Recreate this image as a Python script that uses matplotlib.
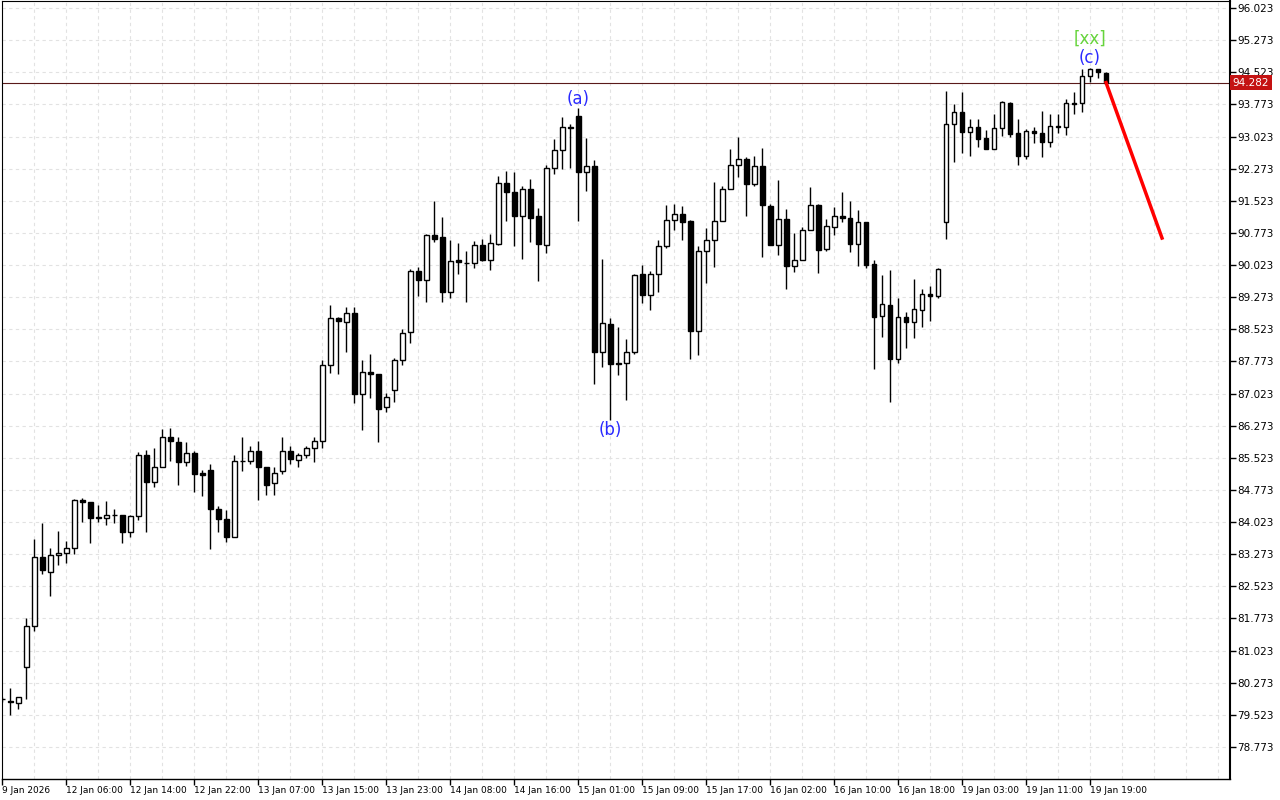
import numpy as np
import matplotlib
matplotlib.use('Agg')
import matplotlib.pyplot as plt
import matplotlib.transforms as mtransforms

# hourly candles
opens = [79.90, 79.84, 79.79, 80.63, 81.59, 83.21, 82.85, 83.25, 83.29, 83.41,
         84.53, 84.49, 84.14, 84.13, 84.20, 84.19, 83.80, 84.16, 85.59, 84.95,
         85.30, 86.00, 85.89, 85.43, 85.63, 85.16, 85.23, 84.34, 84.09, 83.68,
         85.44, 85.44, 85.68, 85.30, 84.93, 85.21, 85.68, 85.47, 85.60, 85.75,
         85.91, 87.68, 88.78, 88.69, 88.90, 87.01, 87.52, 87.47, 86.70, 87.10,
         87.80, 88.45, 89.88, 89.67, 90.72, 90.67, 89.39, 90.14, 90.08, 90.06,
         90.48, 90.13, 90.52, 91.93, 91.74, 91.16, 91.81, 91.16, 90.48, 92.30,
         92.72, 93.24, 93.50, 92.19, 92.33, 87.99, 88.64, 87.73, 87.73, 87.99,
         89.81, 89.32, 89.81, 90.46, 91.07, 91.21, 91.05, 88.49, 90.34, 90.60,
         91.04, 91.81, 92.35, 92.49, 91.91, 92.33, 91.39, 90.48, 91.09, 89.99,
         90.13, 90.83, 91.42, 90.39, 90.90, 91.16, 91.11, 90.51, 91.02, 90.04,
         88.83, 89.08, 87.84, 88.80, 88.69, 88.97, 89.34, 89.29, 91.02, 93.31,
         93.59, 93.12, 93.24, 92.98, 92.74, 93.22, 93.80, 93.10, 92.58, 93.15,
         93.10, 92.90, 93.26, 93.25, 93.80, 93.80, 94.43, 94.59, 94.50]
closes = [79.89, 79.83, 79.94, 81.59, 83.21, 82.90, 83.25, 83.29, 83.41, 84.53,
          84.49, 84.13, 84.12, 84.20, 84.19, 83.80, 84.16, 85.59, 84.95, 85.30,
          86.00, 85.91, 85.43, 85.63, 85.14, 85.13, 84.34, 84.09, 83.68, 85.44,
          85.45, 85.68, 85.30, 84.90, 85.18, 85.68, 85.49, 85.60, 85.75, 85.91,
          87.68, 88.78, 88.71, 88.90, 87.01, 87.52, 87.47, 86.66, 86.94, 87.80,
          88.43, 89.88, 89.67, 90.72, 90.64, 89.39, 90.11, 90.09, 90.07, 90.48,
          90.13, 90.53, 91.93, 91.74, 91.16, 91.79, 91.13, 90.51, 92.30, 92.72,
          93.24, 93.22, 92.19, 92.33, 87.99, 88.66, 87.71, 87.71, 87.99, 89.78,
          89.32, 89.81, 90.46, 91.07, 91.21, 91.03, 88.49, 90.34, 90.60, 91.04,
          91.81, 92.35, 92.49, 91.91, 92.33, 91.42, 90.50, 91.09, 89.99, 90.13,
          90.83, 91.42, 90.38, 90.93, 91.16, 91.11, 90.51, 91.02, 90.02, 88.82,
          89.11, 87.84, 88.80, 88.70, 88.99, 89.34, 89.29, 89.92, 93.31, 93.59,
          93.14, 93.24, 92.97, 92.74, 93.22, 93.82, 93.09, 92.58, 93.15, 93.10,
          92.90, 93.26, 93.24, 93.80, 93.79, 94.43, 94.59, 94.52, 94.28]
highs = [79.94, 80.15, 79.94, 81.78, 83.63, 84.00, 83.41, 83.81, 83.58, 84.56,
         84.58, 84.49, 84.42, 84.52, 84.33, 84.19, 84.19, 85.66, 85.71, 85.75,
         86.20, 86.23, 86.01, 85.89, 85.68, 85.24, 85.39, 84.40, 84.31, 85.60,
         86.00, 85.81, 85.91, 85.32, 85.30, 86.00, 85.79, 85.64, 85.81, 86.00,
         87.80, 89.09, 88.80, 89.04, 89.04, 87.80, 87.94, 87.47, 87.03, 87.85,
         88.52, 89.92, 89.97, 90.74, 91.51, 91.14, 90.60, 90.53, 90.34, 90.58,
         90.62, 90.74, 92.10, 92.21, 92.19, 91.87, 92.03, 91.35, 92.35, 92.96,
         93.49, 93.31, 93.68, 93.00, 92.47, 90.16, 88.78, 88.57, 88.29, 89.81,
         90.02, 89.88, 90.60, 91.42, 91.44, 91.40, 91.07, 90.46, 90.89, 91.97,
         91.88, 92.73, 93.01, 92.54, 92.56, 92.75, 91.44, 92.02, 91.32, 90.76,
         90.90, 91.84, 91.46, 91.09, 91.37, 91.74, 91.51, 91.30, 91.02, 90.13,
         89.79, 89.90, 89.25, 88.92, 89.69, 89.46, 89.53, 89.95, 94.08, 93.78,
         94.06, 93.43, 93.43, 93.17, 93.54, 93.85, 93.82, 93.43, 93.19, 93.24,
         93.61, 93.54, 93.54, 93.91, 94.07, 94.59, 94.62, 94.59, 94.52]
lows = [79.82, 79.53, 79.67, 79.89, 81.47, 82.82, 82.30, 83.03, 83.07, 83.28,
        84.03, 83.54, 84.03, 83.96, 84.01, 83.54, 83.68, 84.07, 83.80, 84.85,
        85.30, 85.45, 84.90, 85.34, 84.73, 84.64, 83.39, 83.80, 83.56, 83.68,
        85.22, 85.39, 84.53, 84.65, 84.65, 85.14, 85.39, 85.30, 85.51, 85.42,
        85.76, 87.50, 87.47, 88.00, 86.81, 86.17, 86.91, 85.89, 86.59, 86.82,
        87.68, 88.20, 89.31, 89.17, 90.57, 89.15, 89.25, 89.81, 89.17, 89.95,
        90.11, 89.90, 90.49, 91.04, 90.46, 90.17, 90.56, 89.66, 90.31, 92.16,
        92.26, 92.30, 91.06, 91.76, 87.24, 87.64, 86.41, 87.45, 86.87, 87.94,
        89.13, 88.97, 89.39, 90.41, 90.83, 90.61, 87.82, 87.92, 89.61, 89.97,
        91.04, 91.81, 92.09, 91.17, 91.86, 90.20, 90.50, 90.26, 89.46, 89.87,
        90.13, 90.83, 89.83, 90.34, 90.72, 91.02, 90.32, 89.99, 89.95, 87.60,
        88.35, 86.82, 87.74, 88.09, 88.33, 88.58, 88.72, 89.25, 90.64, 92.44,
        92.65, 92.58, 92.79, 92.74, 92.74, 93.04, 93.02, 92.37, 92.51, 92.88,
        92.55, 92.79, 93.11, 93.06, 93.56, 93.59, 94.29, 94.38, 94.28]

xlabels = ['9 Jan 2026', '12 Jan 06:00', '12 Jan 14:00', '12 Jan 22:00', '13 Jan 07:00',
           '13 Jan 15:00', '13 Jan 23:00', '14 Jan 08:00', '14 Jan 16:00', '15 Jan 01:00',
           '15 Jan 09:00', '15 Jan 17:00', '16 Jan 02:00', '16 Jan 10:00', '16 Jan 18:00',
           '19 Jan 03:00', '19 Jan 11:00', '19 Jan 19:00']
yticks = [96.023 - 0.75 * k for k in range(24)]

last_price = 94.282
# forecast line (bar index, price)
fc_x = [138, 145]
fc_y = [94.282, 90.654]

# wave labels: text, bar, price, colour
waves = [('(a)', 72, 93.90, '#2a2aff'),
         ('(b)', 76, 86.17, '#2a2aff'),
         ('(c)', 136, 94.86, '#2a2aff'),
         ('[xx]', 136, 95.30, '#66d43c')]

o = np.array(opens)
c = np.array(closes)
h = np.array(highs)
l = np.array(lows)
x = np.arange(len(o))
up = c >= o

fig = plt.figure(figsize=(12.8, 8), dpi=100)
ax = fig.add_axes([2 / 1280, 21 / 800, 1228 / 1280, 778 / 800])

ax.vlines(x, l, h, color='black', lw=1, zorder=2)
ax.bar(x[up], (c - o)[up], bottom=o[up], width=0.6, color='white',
       edgecolor='black', lw=1, zorder=3)
ax.bar(x[~up], (o - c)[~up], bottom=c[~up], width=0.6, color='black',
       edgecolor='black', lw=1, zorder=3)

ax.axhline(last_price, color='#5a1a1a', lw=0.8, zorder=1)
ax.plot(fc_x, fc_y, color='#ff0000', lw=2.5, zorder=4)

for txt, bx, py, col in waves:
    ax.text(bx, py, txt, color=col, fontsize=12, ha='center', va='center', zorder=5)

ax.set_xlim(-0.04, 153.5)
ax.set_ylim(78.026, 96.187)

ax.set_xticks(np.arange(0, 137, 8))
ax.set_xticklabels(xlabels, fontsize=6.5, ha='left')
ax.set_xticks(np.arange(0, 154, 4), minor=True)
ax.set_yticks(yticks)
ax.set_yticklabels(['%.3f' % v for v in yticks], fontsize=7.5)
ax.yaxis.tick_right()
ax.tick_params(axis='x', which='major', length=4, pad=1, width=1)
ax.tick_params(axis='x', which='minor', length=0)
ax.tick_params(axis='y', length=4, pad=1, width=1)

ax.grid(True, which='both', axis='x', color='#e2e2e2', ls=(0, (3, 3)), lw=0.8)
ax.grid(True, which='major', axis='y', color='#e2e2e2', ls=(0, (3, 3)), lw=0.8)
ax.set_axisbelow(True)

for side in ['left', 'top']:
    ax.spines[side].set_linewidth(0.8)
ax.spines['bottom'].set_linewidth(1)
ax.spines['right'].set_linewidth(1.5)

tr = mtransforms.blended_transform_factory(ax.transAxes, ax.transData)
ax.text(1.002, last_price, '94.282', transform=tr, fontsize=7.5, color='white',
        ha='left', va='center', zorder=6,
        bbox=dict(boxstyle='square,pad=0.25', fc='#c41212', ec='none'))

fig.savefig('out.png', dpi=100)
